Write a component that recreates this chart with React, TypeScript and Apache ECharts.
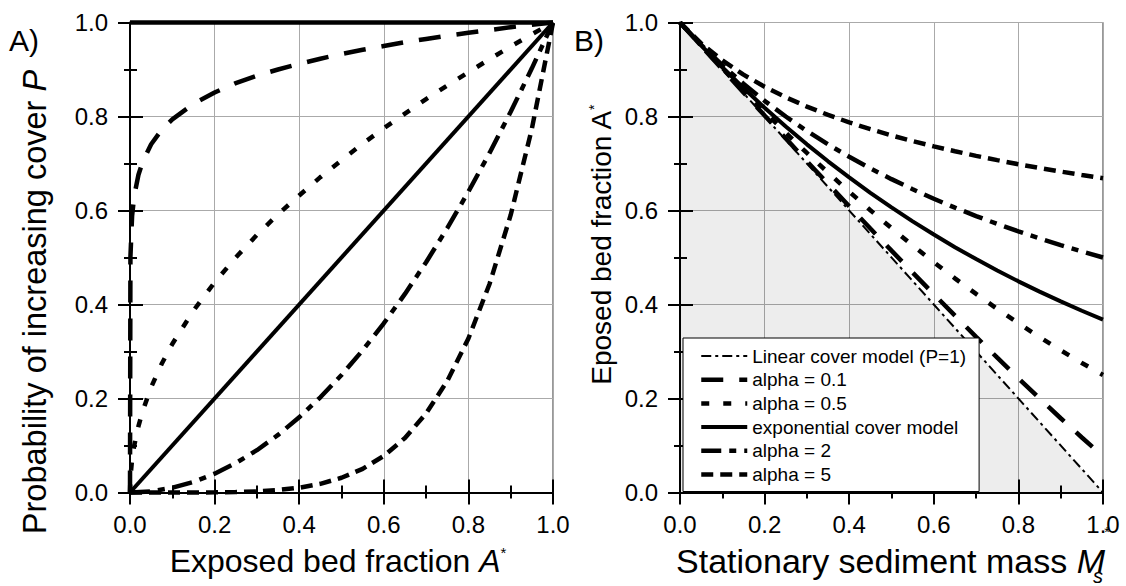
import React, { useEffect, useRef } from "react";
import * as echarts from "echarts";

// ---------- Data ----------
// Panel A: probability of increasing cover P vs exposed bed fraction A*
const aXDense = [0, 0.001, 0.005, 0.01, 0.02, 0.03, 0.05, 0.075, 0.1, 0.15, 0.2, 0.25, 0.3, 0.35, 0.4, 0.45, 0.5, 0.55, 0.6, 0.65, 0.7, 0.75, 0.8, 0.85, 0.9, 0.95, 1.0];
const pAlpha01 = [0, 0.501, 0.589, 0.631, 0.676, 0.704, 0.741, 0.772, 0.794, 0.827, 0.851, 0.871, 0.887, 0.9, 0.912, 0.923, 0.933, 0.942, 0.95, 0.958, 0.965, 0.972, 0.978, 0.984, 0.99, 0.995, 1];
const pAlpha05 = [0, 0.032, 0.071, 0.1, 0.141, 0.173, 0.224, 0.274, 0.316, 0.387, 0.447, 0.5, 0.548, 0.592, 0.632, 0.671, 0.707, 0.742, 0.775, 0.806, 0.837, 0.866, 0.894, 0.922, 0.949, 0.975, 1];
const aXCoarse = [0, 0.05, 0.1, 0.15, 0.2, 0.25, 0.3, 0.35, 0.4, 0.45, 0.5, 0.55, 0.6, 0.65, 0.7, 0.75, 0.8, 0.85, 0.9, 0.95, 1.0];
const pAlpha2 = [0, 0.0025, 0.01, 0.0225, 0.04, 0.0625, 0.09, 0.1225, 0.16, 0.2025, 0.25, 0.3025, 0.36, 0.4225, 0.49, 0.5625, 0.64, 0.7225, 0.81, 0.9025, 1];
const pAlpha5 = [0, 0, 0.00001, 0.00008, 0.0003, 0.001, 0.0024, 0.0053, 0.0102, 0.0185, 0.0313, 0.0503, 0.0778, 0.116, 0.1681, 0.2373, 0.3277, 0.4437, 0.5905, 0.7738, 1];
const aXEnds = [0, 1];
const pLinearModel = [1, 1];
const pExponential = [0, 1];

// Panel B: exposed bed fraction A* vs stationary sediment mass Ms*
const mX = [0, 0.05, 0.1, 0.15, 0.2, 0.25, 0.3, 0.35, 0.4, 0.45, 0.5, 0.55, 0.6, 0.65, 0.7, 0.75, 0.8, 0.85, 0.9, 0.95, 1.0];
const mXEnds = [0, 1];
const bLinear = [1, 0];
const bAlpha01 = [1, 0.9501, 0.9005, 0.8512, 0.8021, 0.7534, 0.7049, 0.6568, 0.609, 0.5616, 0.5147, 0.4681, 0.422, 0.3764, 0.3313, 0.2868, 0.2431, 0.2001, 0.158, 0.117, 0.0774];
const bAlpha05 = [1, 0.9506, 0.9025, 0.8556, 0.81, 0.7656, 0.7225, 0.6806, 0.64, 0.6006, 0.5625, 0.5256, 0.49, 0.4556, 0.4225, 0.3906, 0.36, 0.3306, 0.3025, 0.2756, 0.25];
const bExponential = [1, 0.9512, 0.9048, 0.8607, 0.8187, 0.7788, 0.7408, 0.7047, 0.6703, 0.6376, 0.6065, 0.5769, 0.5488, 0.522, 0.4966, 0.4724, 0.4493, 0.4274, 0.4066, 0.3867, 0.3679];
const bAlpha2 = [1, 0.9524, 0.9091, 0.8696, 0.8333, 0.8, 0.7692, 0.7407, 0.7143, 0.6897, 0.6667, 0.6452, 0.625, 0.6061, 0.5882, 0.5714, 0.5556, 0.5405, 0.5263, 0.5128, 0.5];
const bAlpha5 = [1, 0.9554, 0.9193, 0.8891, 0.8633, 0.8409, 0.8211, 0.8034, 0.7875, 0.773, 0.7598, 0.7477, 0.7364, 0.726, 0.7162, 0.7071, 0.6985, 0.6905, 0.6828, 0.6756, 0.6687];

const legendNames = [
  "Linear cover model (P=1)",
  "alpha = 0.1",
  "alpha = 0.5",
  "exponential cover model",
  "alpha = 2",
  "alpha = 5",
];

// ---------- Styles ----------
const FONT = "Liberation Sans, Arial, sans-serif";
const DASH = {
  linear: [10, 4, 3, 4],
  a01: [22, 16],
  a05: [8, 14],
  a2: [20, 8, 7, 8],
  a5: [12, 7],
};

const zip = (xs: number[], ys: number[]) => xs.map((x, i) => [x, ys[i]]);

const TICK = { color: "#000", width: 2 };

function mainX(gridIndex: number) {
  return {
    type: "value",
    gridIndex,
    min: 0,
    max: 1,
    interval: 0.2,
    position: "bottom",
    offset: 0,
    axisLine: { show: true, onZero: false, lineStyle: { color: "#000", width: 2 } },
    axisTick: { show: true, inside: false, length: 12, lineStyle: TICK },
    minorTick: { show: true, splitNumber: 2, length: 6, lineStyle: TICK },
    axisLabel: {
      show: true,
      margin: 20,
      fontSize: 24,
      fontFamily: FONT,
      color: "#000",
      hideOverlap: false,
      formatter: (v: number) => v.toFixed(1),
    },
    splitLine: { show: true, lineStyle: { color: "#aaaaaa", width: 1 } },
  };
}
function innerX(gridIndex: number) {
  return {
    type: "value",
    gridIndex,
    min: 0,
    max: 1,
    interval: 0.2,
    position: "bottom",
    offset: 0,
    axisLine: { show: false, onZero: false },
    axisTick: { show: true, inside: true, length: 13, lineStyle: TICK },
    minorTick: { show: true, splitNumber: 2, length: 7, lineStyle: TICK },
    axisLabel: { show: false },
    splitLine: { show: false },
  };
}
function mainY(gridIndex: number) {
  return {
    type: "value",
    gridIndex,
    min: 0,
    max: 1,
    interval: 0.2,
    position: "left",
    offset: 0,
    axisLine: { show: true, onZero: false, lineStyle: { color: "#000", width: 2 } },
    axisTick: { show: true, inside: false, length: 12, lineStyle: TICK },
    minorTick: { show: true, splitNumber: 2, length: 6, lineStyle: TICK },
    axisLabel: {
      show: true,
      margin: 22,
      fontSize: 24,
      fontFamily: FONT,
      color: "#000",
      hideOverlap: false,
      formatter: (v: number) => v.toFixed(1),
    },
    splitLine: { show: true, lineStyle: { color: "#aaaaaa", width: 1 } },
  };
}
function innerY(gridIndex: number) {
  return {
    type: "value",
    gridIndex,
    min: 0,
    max: 1,
    interval: 0.2,
    position: "left",
    offset: 0,
    axisLine: { show: false, onZero: false },
    axisTick: { show: true, inside: true, length: 13, lineStyle: TICK },
    minorTick: { show: true, splitNumber: 2, length: 7, lineStyle: TICK },
    axisLabel: { show: false },
    splitLine: { show: false },
  };
}

function lineSeries(name: string, axis: number, data: number[][], width: number, type: any, extra: any = {}) {
  return {
    type: "line",
    name,
    xAxisIndex: axis,
    yAxisIndex: axis,
    data,
    symbol: "none",
    showSymbol: false,
    clip: false,
    smooth: false,
    lineStyle: { color: "#000", width, type, cap: "butt" },
    itemStyle: { color: "#000" },
    emphasis: { disabled: true },
    z: 3,
    ...extra,
  };
}

export default function App() {
  const ref = useRef<HTMLDivElement>(null);

  useEffect(() => {
    if (!ref.current) return;
    const chart = echarts.init(ref.current, undefined, { renderer: "svg", width: 1126, height: 586 });

    const option: any = {
      animation: false,
      backgroundColor: "#fff",
      textStyle: { fontFamily: FONT },
      grid: [
        { left: 130, top: 22.5, width: 423, height: 470, show: true, borderColor: "#333", borderWidth: 1, backgroundColor: "transparent" },
        { left: 680, top: 22.5, width: 423, height: 470, show: true, borderColor: "#333", borderWidth: 1, backgroundColor: "transparent" },
      ],
      xAxis: [mainX(0), innerX(0), mainX(1), innerX(1)],
      yAxis: [mainY(0), innerY(0), mainY(1), innerY(1)],
      legend: {
        data: legendNames,
        orient: "vertical",
        left: 683,
        top: 338,
        padding: [8, 13, 7, 16],
        itemWidth: 46,
        itemHeight: 14,
        itemGap: 3.7,
        backgroundColor: "#fff",
        borderColor: "#000",
        borderWidth: 1,
        borderRadius: 0,
        selectedMode: false,
        textStyle: { fontSize: 19, fontFamily: FONT, color: "#000", lineHeight: 20 },
        itemStyle: { opacity: 0 },
        lineStyle: { width: "inherit" },
        z: 10,
      },
      series: [
        // Panel A
        lineSeries("A_linear", 0, zip(aXEnds, pLinearModel), 4.5, "solid"),
        lineSeries("A_alpha01", 0, zip(aXDense, pAlpha01), 4.5, DASH.a01),
        lineSeries("A_alpha05", 0, zip(aXDense, pAlpha05), 4.5, DASH.a05),
        lineSeries("A_exp", 0, zip(aXEnds, pExponential), 4, "solid"),
        lineSeries("A_alpha2", 0, zip(aXCoarse, pAlpha2), 4.5, DASH.a2),
        lineSeries("A_alpha5", 0, zip(aXCoarse, pAlpha5), 4.5, DASH.a5),
        // Panel B
        lineSeries(legendNames[0], 2, zip(mXEnds, bLinear), 2, DASH.linear, {
          areaStyle: { color: "rgba(0,0,0,0.1)", origin: "start" },
          z: 2,
        }),
        lineSeries(legendNames[1], 2, zip(mX, bAlpha01), 4.5, DASH.a01),
        lineSeries(legendNames[2], 2, zip(mX, bAlpha05), 4.5, DASH.a05),
        lineSeries(legendNames[3], 2, zip(mX, bExponential), 4, "solid"),
        lineSeries(legendNames[4], 2, zip(mX, bAlpha2), 4.5, DASH.a2),
        lineSeries(legendNames[5], 2, zip(mX, bAlpha5), 4.5, DASH.a5),
      ],
      graphic: [
        {
          type: "text",
          x: 9,
          y: 40,
          style: { text: "A)", fontSize: 30, fontFamily: FONT, fill: "#000", align: "left", verticalAlign: "middle" },
        },
        {
          type: "text",
          x: 574,
          y: 40,
          style: { text: "B)", fontSize: 30, fontFamily: FONT, fill: "#000", align: "left", verticalAlign: "middle" },
        },
        {
          type: "text",
          x: 338,
          y: 561,
          style: {
            text: "Exposed bed fraction {i|A}{sup|*}",
            fontSize: 32,
            fontFamily: FONT,
            fill: "#000",
            align: "center",
            verticalAlign: "middle",
            rich: {
              i: { fontStyle: "italic", fontSize: 32, fontFamily: FONT, fill: "#000" },
              sup: { fontSize: 15, fontFamily: FONT, fill: "#000", verticalAlign: "top" },
            },
          },
        },
        {
          type: "text",
          x: 35,
          y: 302,
          rotation: Math.PI / 2,
          style: {
            text: "Probability of increasing cover {i|P}",
            fontSize: 32.5,
            fontFamily: FONT,
            fill: "#000",
            align: "center",
            verticalAlign: "middle",
            rich: {
              i: { fontStyle: "italic", fontSize: 32.5, fontFamily: FONT, fill: "#000" },
            },
          },
        },
        {
          type: "text",
          x: 1105,
          y: 561,
          style: {
            text: "Stationary sediment mass {i|M}",
            fontSize: 34,
            fontFamily: FONT,
            fill: "#000",
            align: "right",
            verticalAlign: "middle",
            rich: {
              i: { fontStyle: "italic", fontSize: 34, fontFamily: FONT, fill: "#000" },
            },
          },
        },
        {
          type: "text",
          x: 1098,
          y: 576,
          style: { text: "s", fontSize: 20, fontStyle: "italic", fontFamily: FONT, fill: "#000", align: "center", verticalAlign: "middle" },
        },
        {
          type: "text",
          x: 1107,
          y: 532,
          style: { text: "*", fontSize: 14, fontFamily: FONT, fill: "#000", align: "center", verticalAlign: "middle" },
        },
        {
          type: "text",
          x: 601,
          y: 245,
          rotation: Math.PI / 2,
          style: {
            text: "Eposed bed fraction A{sup|*}",
            fontSize: 28,
            fontFamily: FONT,
            fill: "#000",
            align: "center",
            verticalAlign: "middle",
            rich: {
              sup: { fontSize: 14, fontFamily: FONT, fill: "#000", verticalAlign: "top" },
            },
          },
        },
      ],
    };

    chart.setOption(option);
    return () => chart.dispose();
  }, []);

  return (
    <div
      ref={ref}
      style={{ position: "fixed", left: 0, top: 0, width: 1126, height: 586, background: "#fff" }}
    />
  );
}
